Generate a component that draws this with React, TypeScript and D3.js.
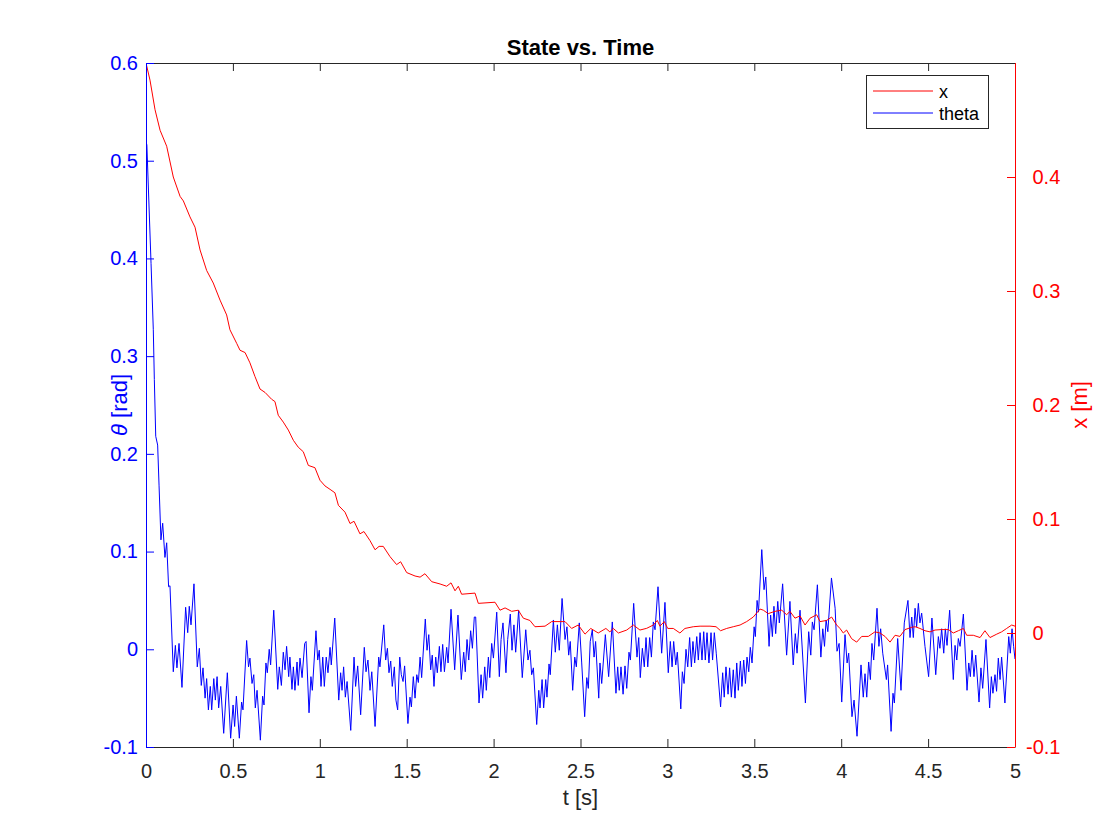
import React, { useEffect, useRef } from 'react'
import * as d3 from 'd3'

// theta [rad] over time
const thetaTime = [
  0, 0.005, 0.029, 0.042, 0.048, 0.056, 0.067, 0.075, 0.086, 0.096, 0.109, 0.119, 0.13, 0.138, 0.157, 0.169, 0.178, 0.19,
  0.207, 0.228, 0.24, 0.249, 0.259, 0.276, 0.295, 0.307, 0.318, 0.328, 0.34, 0.349, 0.359, 0.37, 0.378, 0.39, 0.399, 0.409,
  0.418, 0.43, 0.447, 0.468, 0.487, 0.501, 0.51, 0.52, 0.537, 0.55, 0.558, 0.579, 0.59, 0.598, 0.61, 0.62, 0.629, 0.639,
  0.658, 0.671, 0.679, 0.69, 0.698, 0.709, 0.717, 0.735, 0.758, 0.767, 0.779, 0.79, 0.8, 0.809, 0.821, 0.828, 0.84, 0.848,
  0.857, 0.869, 0.876, 0.886, 0.898, 0.913, 0.921, 0.938, 0.949, 0.957, 0.978, 0.988, 0.997, 1.007, 1.017, 1.026, 1.037,
  1.047, 1.059, 1.066, 1.086, 1.109, 1.12, 1.128, 1.137, 1.147, 1.157, 1.178, 1.197, 1.206, 1.218, 1.235, 1.256, 1.266,
  1.277, 1.289, 1.299, 1.318, 1.339, 1.346, 1.368, 1.379, 1.389, 1.398, 1.408, 1.417, 1.429, 1.438, 1.448, 1.46, 1.469,
  1.479, 1.488, 1.507, 1.519, 1.527, 1.538, 1.548, 1.558, 1.567, 1.577, 1.586, 1.607, 1.617, 1.627, 1.638, 1.647, 1.657,
  1.667, 1.676, 1.688, 1.697, 1.707, 1.717, 1.73, 1.738, 1.755, 1.776, 1.795, 1.814, 1.828, 1.837, 1.847, 1.857, 1.868,
  1.878, 1.889, 1.897, 1.916, 1.928, 1.937, 1.949, 1.958, 1.97, 1.978, 1.989, 1.999, 2.018, 2.033, 2.043, 2.054, 2.071,
  2.081, 2.096, 2.106, 2.117, 2.127, 2.144, 2.165, 2.185, 2.198, 2.209, 2.219, 2.229, 2.248, 2.26, 2.267, 2.279, 2.288,
  2.3, 2.307, 2.319, 2.326, 2.344, 2.355, 2.367, 2.378, 2.394, 2.411, 2.422, 2.432, 2.441, 2.455, 2.467, 2.476, 2.493,
  2.507, 2.524, 2.536, 2.545, 2.556, 2.568, 2.578, 2.587, 2.605, 2.612, 2.622, 2.643, 2.662, 2.683, 2.704, 2.714, 2.723,
  2.733, 2.745, 2.756, 2.766, 2.779, 2.787, 2.806, 2.825, 2.835, 2.844, 2.856, 2.867, 2.877, 2.887, 2.898, 2.908, 2.919,
  2.929, 2.946, 2.967, 2.986, 3.005, 3.017, 3.027, 3.036, 3.048, 3.057, 3.077, 3.086, 3.096, 3.107, 3.117, 3.128, 3.138,
  3.147, 3.157, 3.169, 3.178, 3.188, 3.199, 3.209, 3.218, 3.228, 3.239, 3.251, 3.26, 3.27, 3.281, 3.306, 3.318, 3.327,
  3.337, 3.349, 3.358, 3.368, 3.379, 3.389, 3.399, 3.408, 3.42, 3.429, 3.439, 3.449, 3.458, 3.468, 3.477, 3.487, 3.499,
  3.506, 3.516, 3.524, 3.543, 3.556, 3.566, 3.585, 3.594, 3.604, 3.613, 3.623, 3.635, 3.644, 3.663, 3.686, 3.705, 3.724,
  3.736, 3.746, 3.763, 3.794, 3.813, 3.825, 3.834, 3.844, 3.863, 3.883, 3.894, 3.904, 3.913, 3.923, 3.944, 3.965, 3.976,
  3.988, 4.003, 4.022, 4.034, 4.043, 4.062, 4.074, 4.091, 4.114, 4.127, 4.137, 4.147, 4.158, 4.168, 4.177, 4.187, 4.206,
  4.217, 4.227, 4.239, 4.26, 4.267, 4.287, 4.298, 4.306, 4.325, 4.344, 4.363, 4.384, 4.396, 4.406, 4.415, 4.425, 4.434,
  4.444, 4.453, 4.463, 4.482, 4.503, 4.522, 4.544, 4.559, 4.568, 4.578, 4.59, 4.599, 4.609, 4.624, 4.645, 4.655, 4.665,
  4.674, 4.684, 4.703, 4.724, 4.734, 4.743, 4.753, 4.764, 4.774, 4.793, 4.804, 4.814, 4.833, 4.854, 4.864, 4.873, 4.885,
  4.894, 4.904, 4.914, 4.923, 4.942, 4.964, 4.973, 4.983, 4.992, 5
]
const thetaValues = [
  0.52, 0.516, 0.395, 0.327, 0.276, 0.218, 0.209, 0.168, 0.112, 0.129, 0.094, 0.109, 0.064, 0.065, -0.023, 0.004, -0.019, 0.006,
  -0.039, 0.043, 0.017, 0.044, 0.025, 0.067, -0.018, 0.001, -0.037, -0.019, -0.05, -0.03, -0.062, -0.038, -0.062, -0.03, -0.052, -0.028,
  -0.06, -0.038, -0.086, -0.024, -0.091, -0.057, -0.079, -0.048, -0.091, -0.054, -0.062, 0.009, -0.018, -0.009, -0.035, -0.026, -0.06, -0.042,
  -0.093, -0.048, -0.057, -0.014, -0.024, 0, -0.016, 0.04, -0.041, -0.018, -0.037, -0.003, -0.021, 0.003, -0.028, -0.008, -0.041, -0.018,
  -0.042, -0.013, -0.037, -0.009, -0.029, 0.006, 0.008, -0.065, -0.028, -0.042, 0.019, -0.011, -0.001, -0.038, -0.008, -0.038, -0.008,
  -0.024, 0.002, -0.016, 0.032, -0.052, -0.024, -0.042, -0.018, -0.049, -0.033, -0.083, -0.008, -0.038, -0.017, -0.067, 0.002, -0.023,
  -0.011, -0.042, -0.023, -0.079, -0.008, -0.018, 0.025, -0.011, 0.001, -0.024, -0.012, -0.038, -0.018, -0.052, -0.062, -0.008, -0.026,
  -0.033, -0.017, -0.076, -0.049, -0.059, -0.028, -0.05, -0.026, -0.034, -0.008, -0.029, 0.031, -0.001, 0.015, -0.021, -0.006, -0.038,
  -0.008, -0.024, 0.003, -0.023, 0.005, -0.023, 0.002, -0.014, 0.041, -0.021, 0.035, -0.031, -0.003, -0.023, 0.01, -0.011, 0.019,
  0.001, 0.033, 0.033, -0.055, -0.026, -0.05, -0.018, -0.042, -0.008, -0.029, 0.006, -0.009, 0.038, -0.028, 0.01, 0.027, -0.024,
  0.01, 0.036, -0.001, 0.025, -0.003, 0.04, -0.029, 0.02, -0.011, -0.001, -0.026, -0.019, -0.077, -0.042, -0.06, -0.031, -0.06,
  -0.031, -0.049, -0.015, -0.026, 0.03, -0.003, 0.025, -0.001, 0.052, 0.01, 0.023, -0.006, 0.008, -0.042, -0.008, -0.018, 0.027,
  -0.014, -0.069, -0.029, -0.04, 0.008, 0.02, -0.008, 0.008, -0.05, -0.014, -0.035, 0.015, -0.028, 0.028, -0.045, -0.018, -0.042,
  -0.018, -0.046, -0.017, -0.04, -0.003, -0.011, 0.047, -0.008, 0.012, -0.029, 0.001, -0.018, 0.012, -0.018, 0.012, -0.008, 0.028,
  0.02, 0.064, -0.004, 0.048, -0.024, 0.008, -0.018, 0.008, -0.016, -0.003, -0.061, -0.023, -0.035, 0, -0.018, 0.012, -0.018,
  0.008, -0.014, 0.013, -0.011, 0.017, -0.011, 0.018, -0.011, 0.017, -0.014, 0.017, -0.011, 0.017, -0.004, -0.059, -0.024, -0.049,
  -0.018, -0.046, -0.019, -0.049, -0.021, -0.05, -0.014, -0.042, -0.012, -0.038, -0.011, -0.035, -0.008, -0.023, 0.002, -0.014, 0.023,
  0.013, 0.05, 0.038, 0.102, 0.061, 0.074, 0.003, 0.035, 0.013, 0.044, 0.016, 0.049, 0.027, 0.067, -0.006, 0.049, -0.016,
  0.016, -0.004, 0.04, -0.055, 0.018, -0.006, 0.028, 0.02, 0.066, -0.008, 0.021, 0.003, 0.03, 0.018, 0.073, 0.042, -0.002,
  0.006, -0.054, 0.015, -0.014, -0.004, -0.069, -0.052, -0.089, -0.016, -0.049, -0.025, -0.049, -0.013, -0.031, 0.006, -0.011, 0.042,
  0.003, 0.021, -0.004, -0.031, -0.016, -0.084, -0.045, -0.055, 0.011, -0.042, 0.027, 0.05, 0.012, 0.033, 0.012, 0.042, 0.023,
  0.047, 0.027, 0.037, 0.003, -0.028, 0.032, -0.026, 0.013, 0.001, 0.021, -0.004, 0.021, 0.004, 0.04, -0.031, 0.004, -0.011,
  0.011, 0.003, 0.036, -0.042, -0.014, -0.028, -0.001, -0.028, -0.006, -0.054, -0.019, -0.04, 0.01, -0.06, -0.028, -0.045, -0.026,
  -0.043, -0.009, -0.031, -0.008, -0.055, 0.013, -0.004, 0.021, 0.003, -0.01
]

// cart position x [m] over time
const xTime = [
  0, 0.023, 0.052, 0.081, 0.119, 0.157, 0.196, 0.215, 0.253, 0.282, 0.311, 0.349, 0.387, 0.426, 0.464, 0.483, 0.522, 0.541,
  0.57, 0.598, 0.627, 0.656, 0.685, 0.723, 0.742, 0.761, 0.79, 0.819, 0.848, 0.876, 0.905, 0.934, 0.972, 1.001, 1.03, 1.059,
  1.087, 1.107, 1.145, 1.174, 1.197, 1.231, 1.254, 1.289, 1.318, 1.341, 1.365, 1.404, 1.442, 1.465, 1.5, 1.548, 1.577, 1.605,
  1.644, 1.692, 1.73, 1.755, 1.778, 1.797, 1.816, 1.893, 1.912, 2.008, 2.037, 2.066, 2.104, 2.142, 2.171, 2.209, 2.238, 2.296,
  2.334, 2.382, 2.411, 2.449, 2.487, 2.526, 2.559, 2.602, 2.646, 2.669, 2.689, 2.718, 2.766, 2.804, 2.842, 2.881, 2.919, 2.942,
  2.957, 2.982, 3.002, 3.034, 3.072, 3.101, 3.149, 3.188, 3.245, 3.28, 3.306, 3.341, 3.379, 3.418, 3.456, 3.494, 3.533, 3.552,
  3.58, 3.619, 3.658, 3.686, 3.705, 3.734, 3.763, 3.792, 3.821, 3.859, 3.878, 3.916, 3.945, 3.974, 3.993, 4.012, 4.031, 4.06,
  4.089, 4.118, 4.156, 4.194, 4.223, 4.252, 4.281, 4.31, 4.338, 4.367, 4.406, 4.425, 4.453, 4.482, 4.511, 4.54, 4.578, 4.617,
  4.645, 4.674, 4.703, 4.722, 4.76, 4.799, 4.827, 4.856, 4.895, 4.923, 4.952, 4.981, 5
]
const xValues = [
  0.5, 0.485, 0.459, 0.441, 0.427, 0.4, 0.383, 0.379, 0.365, 0.356, 0.336, 0.318, 0.307, 0.292, 0.279, 0.266, 0.254, 0.248,
  0.246, 0.237, 0.225, 0.214, 0.211, 0.205, 0.203, 0.191, 0.185, 0.178, 0.169, 0.163, 0.159, 0.147, 0.145, 0.134, 0.129, 0.126,
  0.123, 0.112, 0.106, 0.096, 0.098, 0.087, 0.089, 0.081, 0.073, 0.076, 0.076, 0.067, 0.06, 0.0625, 0.053, 0.05, 0.049, 0.052,
  0.045, 0.043, 0.041, 0.044, 0.037, 0.041, 0.034, 0.035, 0.026, 0.027, 0.02, 0.022, 0.019, 0.02, 0.013, 0.011, 0.0055, 0.006,
  0.01, 0.01, 0.01, 0.004, 0.007, -0.001, 0.004, 0, 0.004, 0.001, 0.004, 0, 0.0026, 0.007, 0.0026, 0.0041, 0.007, 0.011,
  0.006, 0.01, 0.004, 0.004, 0, 0.004, 0.0055, 0.006, 0.006, 0.0055, 0.002, 0.004, 0.0055, 0.007, 0.01, 0.014, 0.021, 0.02,
  0.017, 0.019, 0.02, 0.016, 0.019, 0.013, 0.015, 0.007, 0.013, 0.016, 0.01, 0.011, 0.014, 0.007, 0.004, 0, 0.0026, -0.005,
  -0.008, -0.003, -0.003, 0.001, 0, -0.003, -0.008, -0.002, -0.003, 0.003, 0.005, 0.0055, 0.004, 0.002, 0.001, 0.0026, 0.003, 0.003,
  0, 0.002, 0.004, -0.002, -0.002, -0.004, 0.002, -0.004, -0.001, 0.001, 0.004, 0.007, 0.006
]

const timeTicks = [0, 0.5, 1, 1.5, 2, 2.5, 3, 3.5, 4, 4.5, 5]
const thetaTicks = [-0.1, 0, 0.1, 0.2, 0.3, 0.4, 0.5, 0.6]
const posTicks = [-0.1, 0, 0.1, 0.2, 0.3, 0.4]

const FONT = '"Liberation Sans", Arial, Helvetica, sans-serif'
const AXIS = '#262626'
const BLUE = '#0000ff'
const RED = '#ff0000'

const fmt = (d: any) => String(Math.round(+d * 10) / 10)

export default function App() {
  const ref = useRef<SVGSVGElement | null>(null)

  useEffect(() => {
    if (!ref.current) return
    const svg = d3.select(ref.current)
    svg.selectAll('*').remove()

    const width = 1120, height = 840, margin = { top: 63, right: 105, bottom: 93, left: 146 }
    const w = width - margin.left - margin.right
    const h = height - margin.top - margin.bottom

    svg.append('rect').attr('width', width).attr('height', height).attr('fill', '#fff')
    const g = svg.append('g').attr('transform', `translate(${margin.left},${margin.top})`)

    const x = d3.scaleLinear().domain([0, 5]).range([0, w])
    const yL = d3.scaleLinear().domain([-0.1, 0.6]).range([h, 0])
    const yR = d3.scaleLinear().domain([-0.1, 0.5]).range([h, 0])

    svg.append('defs').append('clipPath').attr('id', 'plotclip')
      .append('rect').attr('width', w).attr('height', h)

    const lines = g.append('g').attr('clip-path', 'url(#plotclip)')

    const thetaLine = d3.line<number>().x((_, i) => x(thetaTime[i])).y(d => yL(d))
    const xLine = d3.line<number>().x((_, i) => x(xTime[i])).y(d => yR(d))

    lines.append('path').datum(thetaValues).attr('d', thetaLine)
      .attr('fill', 'none').attr('stroke', BLUE).attr('stroke-width', 1)
    lines.append('path').datum(xValues).attr('d', xLine)
      .attr('fill', 'none').attr('stroke', RED).attr('stroke-width', 1)

    const styleAxis = (sel: any, color: string) => {
      sel.attr('font-family', FONT).attr('font-size', 20)
      sel.selectAll('path').attr('stroke', color)
      sel.selectAll('line').attr('stroke', color)
      sel.selectAll('text').attr('fill', color)
    }

    // bottom and top (box)
    const bottom = g.append('g').attr('transform', `translate(0,${h})`)
      .call(d3.axisBottom(x).tickValues(timeTicks).tickSizeInner(-8).tickSizeOuter(0).tickPadding(17).tickFormat(fmt))
    styleAxis(bottom, AXIS)
    const top = g.append('g')
      .call(d3.axisTop(x).tickValues(timeTicks).tickSizeInner(-8).tickSizeOuter(0).tickFormat(() => ''))
    styleAxis(top, AXIS)

    const left = g.append('g')
      .call(d3.axisLeft(yL).tickValues(thetaTicks).tickSizeInner(-8).tickSizeOuter(0).tickPadding(8).tickFormat(fmt))
    styleAxis(left, BLUE)

    const right = g.append('g').attr('transform', `translate(${w},0)`)
      .call(d3.axisRight(yR).tickValues(posTicks).tickSizeInner(-8).tickSizeOuter(0).tickFormat(fmt))
    styleAxis(right, RED)
    right.selectAll('path').attr('d', `M0.5,${h}V0`)
    right.selectAll('.tick text').attr('x', (d: any) => (d < 0 ? 11 : 17.5))

    // title and labels
    svg.append('text').attr('x', margin.left + w / 2).attr('y', 55).attr('text-anchor', 'middle')
      .attr('font-family', FONT).attr('font-size', 22).attr('font-weight', 'bold').attr('fill', '#000')
      .text('State vs. Time')

    svg.append('text').attr('x', margin.left + w / 2).attr('y', 805).attr('text-anchor', 'middle')
      .attr('font-family', FONT).attr('font-size', 22).attr('fill', AXIS).text('t [s]')

    const yl = svg.append('text').attr('transform', `translate(127,${margin.top + h / 2}) rotate(-90)`)
      .attr('text-anchor', 'middle').attr('font-family', FONT).attr('font-size', 22).attr('fill', BLUE)
    yl.append('tspan').attr('font-style', 'italic').text('θ')
    yl.append('tspan').text(' [rad]')

    svg.append('text').attr('transform', `translate(1087,${margin.top + h / 2}) rotate(-90)`)
      .attr('text-anchor', 'middle').attr('font-family', FONT).attr('font-size', 22).attr('fill', RED)
      .text('x [m]')

    // legend
    const legendItems = [{ label: 'x', color: RED }, { label: 'theta', color: BLUE }]
    const lg = svg.append('g').attr('transform', 'translate(866,75)')
    lg.append('rect').attr('x', 0.5).attr('y', 0.5).attr('width', 122).attr('height', 53)
      .attr('fill', '#fff').attr('stroke', AXIS).attr('stroke-width', 1)
    legendItems.forEach((item, i) => {
      const cy = 16 + i * 22
      lg.append('line').attr('x1', 7).attr('x2', 67).attr('y1', cy).attr('y2', cy)
        .attr('stroke', item.color).attr('stroke-width', 1)
      lg.append('text').attr('x', 73).attr('y', cy + 6.5).attr('font-family', FONT).attr('font-size', 18)
        .attr('fill', '#000').text(item.label)
    })
  }, [])

  return <svg ref={ref} width={1120} height={840} style={{ position: 'absolute', left: 0, top: 0 }} />
}
